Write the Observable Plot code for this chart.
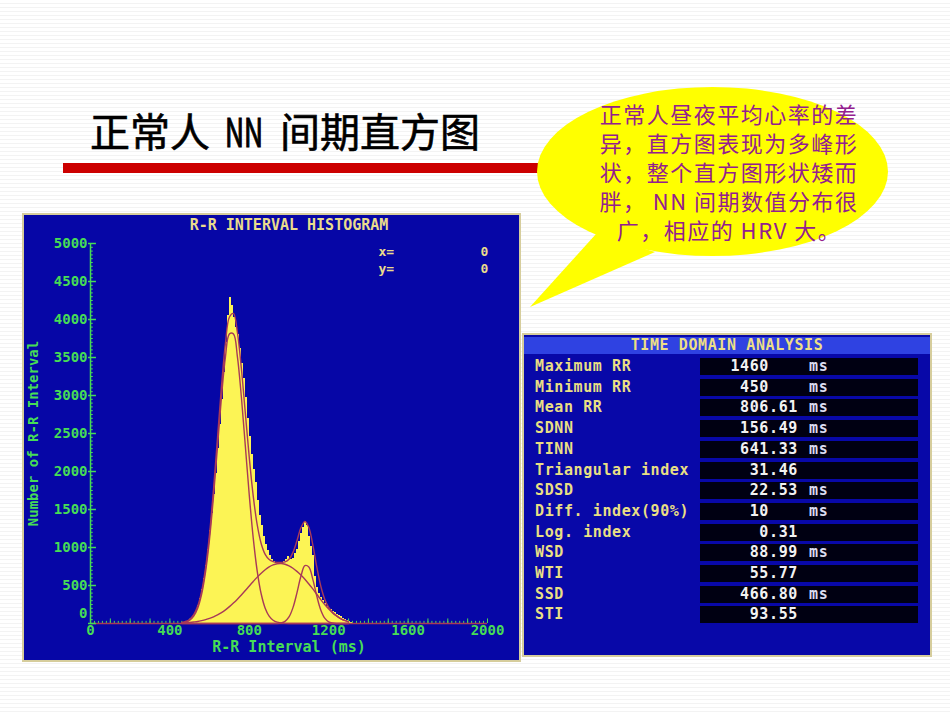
<!DOCTYPE html>
<html><head><meta charset="utf-8">
<script src="https://cdn.jsdelivr.net/npm/d3@7"></script>
<script src="https://cdn.jsdelivr.net/npm/@observablehq/plot@0.6"></script>
<style>
html,body{margin:0;padding:0}
body{width:950px;height:713px;position:relative;overflow:hidden;
  background:repeating-linear-gradient(to bottom,#ffffff 0px,#ffffff 3px,#f3f3f3 3px,#f3f3f3 4px);}
#deco{position:absolute;left:0;top:0}
#hist{position:absolute;left:22px;top:213px;width:499px;height:449px;box-sizing:border-box;
  border:2px solid #d6cd9c;background:#0606a6}
#hist svg{display:block}
#table{position:absolute;left:522px;top:333px;width:410px;height:324px;box-sizing:border-box;
  border:2px solid #d6cd9c;background:#0808a8;font-family:"DejaVu Sans Mono",monospace;font-weight:bold;
  font-size:15px;letter-spacing:0.6px}
#table div{position:absolute;white-space:pre;line-height:17px}
.hdr{left:0;top:2px;width:406px;height:17px;background:#2f42e2;color:#ecdf86;text-align:center}
.lab{left:11px;color:#e9df84}
.box{left:176px;width:218px;height:17px;background:#000012}
.ip{left:176px;width:69px;text-align:right;color:#f2f2f2}
.fp{left:245px;color:#f2f2f2}
.un{left:285px;color:#dcdcf0}
</style></head><body>
<svg id="deco" width="950" height="713"></svg>
<div id="hist"></div>
<div id="table"></div>
<script>
// ---------- data ----------
const titleParts = ["正常人", "NN", "间期直方图"];
const noteLines = ["正常人昼夜平均心率的差", "异，直方图表现为多峰形", "状，整个直方图形状矮而", "胖， NN 间期数值分布很", "广，相应的 HRV 大。"];

const histTitle = "R-R INTERVAL HISTOGRAM";
const xTitle = "R-R Interval (ms)";
const yTitle = "Number of R-R Interval";
const cursorLabels = ["x=", "y="];
const cursorValues = ["0", "0"];

const xTicks = [0, 400, 800, 1200, 1600, 2000];
const yTicks = [0, 500, 1000, 1500, 2000, 2500, 3000, 3500, 4000, 4500, 5000];

// histogram: bin start (ms, 10 ms wide) and counts
const binStart = [490,500,510,520,530,540,550,560,570,580,590,600,610,620,630,640,650,660,670,680,690,
  700,710,720,730,740,750,760,770,780,790,800,810,820,830,840,850,860,870,880,890,
  900,910,920,930,940,950,960,970,980,990,1000,1010,1020,1030,1040,1050,1060,1070,1080,1090,
  1100,1110,1120,1130,1140,1150,1160,1170,1180,1190,1200,1210,1220,1230,1240,1250,1260,1270,1280,1290,1300,1310];
const binCount = [20,40,70,110,160,240,330,450,590,760,980,1220,1450,1700,1980,2300,2620,2950,3300,3700,4050,
  4290,4180,4020,3900,3800,3620,3420,3220,2980,2700,2460,2230,2020,1850,1620,1420,1290,1150,1040,960,
  900,840,820,790,800,780,790,820,840,880,860,840,860,920,980,1080,1190,1260,1340,1290,
  1150,1010,900,620,470,400,340,300,260,230,200,180,160,140,125,105,90,70,55,40,25,10];

// fitted curves sampled every 20 ms
const fitX = [460,480,500,520,540,560,580,600,620,640,660,680,700,720,740,760,780,800,820,840,860,880,900,920,940,
  960,980,1000,1020,1040,1060,1080,1100,1120,1140,1160,1180,1200,1220,1240,1260,1280,1300];
const fitMain = [7,17,43,97,202,388,687,1120,1685,2335,2983,3512,3811,3811,3512,2983,2335,1685,1120,687,388,202,97,43,17,
  7,2,0,0,0,0,0,0,0,0,0,0,0,0,0,0,0,0];
const fitBroad = [7,10,14,20,27,38,51,67,88,114,144,180,222,269,320,376,434,494,553,610,662,708,745,771,787,
  790,780,759,727,686,637,582,520,455,385,315,250,190,140,100,65,40,22];
const fitSecond = [0,0,0,0,0,0,0,0,0,0,0,0,0,0,0,0,0,0,0,0,0,0,0,0,0,
  7,28,86,209,403,621,761,744,580,360,178,70,22,6,0,0,0,0];
const fitSum = [14,27,57,117,229,426,738,1187,1773,2449,3127,3692,4033,4080,3832,3359,2769,2179,1673,1297,1050,910,842,814,804,
  804,810,845,936,1089,1258,1343,1264,1035,745,493,320,212,146,100,65,40,22];

// time domain analysis table
const tableTitle = "TIME DOMAIN ANALYSIS";
const tdLabels = ["Maximum RR","Minimum RR","Mean RR","SDNN","TINN","Triangular index","SDSD","Diff. index(90%)","Log. index","WSD","WTI","SSD","STI"];
const tdValues = ["1460","450","806.61","156.49","641.33","31.46","22.53","10","0.31","88.99","55.77","466.80","93.55"];
const tdUnits  = ["ms","ms","ms","ms","ms","","ms","ms","","ms","","ms",""];

// ---------- decoration: title, red rule, callout ----------
const NS = "http://www.w3.org/2000/svg";
const deco = document.getElementById("deco");
function el(tag, attrs, text) {
  const e = document.createElementNS(NS, tag);
  for (const k in attrs) e.setAttribute(k, attrs[k]);
  if (text != null) e.textContent = text;
  deco.appendChild(e);
  return e;
}
const tf = {"font-family": "Noto Sans CJK SC", "font-size": 40, fill: "#000", "dominant-baseline": "central", stroke: "#000", "stroke-width": 0.6};
el("text", {...tf, x: 90, y: 130}, titleParts[0]);
el("text", {...tf, x: 225, y: 130, textLength: 38, lengthAdjust: "spacingAndGlyphs", "stroke-width": 1.2}, titleParts[1]);
el("text", {...tf, x: 280, y: 130}, titleParts[2]);
el("rect", {x: 63, y: 163, width: 485, height: 10, fill: "#cc0000"});
el("ellipse", {cx: 712.5, cy: 171.5, rx: 175.5, ry: 84.5, fill: "#ffff00"});
el("path", {d: "M596,234 L530,307 L655,252 Z", fill: "#ffff00"});
noteLines.forEach((t, i) => {
  el("text", {x: 729, y: 113 + i * 29, "text-anchor": "middle", "dominant-baseline": "central",
    "font-family": "Noto Sans CJK SC", "font-size": 22, "letter-spacing": 1.5, fill: "#93208f"}, t);
});

// ---------- histogram ----------
const green = "#46dc56", maroon = "#a83a58", yellow = "#fcf455", pale = "#eadc8c";
const mono = "DejaVu Sans Mono";
const bins = binStart.map((x, i) => ({x, n: binCount[i]}));
const step = bins.concat([{x: binStart[binStart.length - 1] + 10, n: 0}]);
const fits = [["main", fitMain], ["broad", fitBroad], ["second", fitSecond], ["sum", fitSum]]
  .flatMap(([k, arr]) => arr.map((v, i) => ({k, x: fitX[i], y: v})));
const xMinor = d3.range(0, 2001, 20), xMid = d3.range(0, 2001, 100);
const yMinor = d3.range(0, 5001, 50);
const txt = {fontFamily: mono, fontWeight: "bold", fontSize: 14, fill: green};
const cur = {...txt, fontSize: 13, fill: pale, frameAnchor: "top-left", lineAnchor: "middle"};

const chart = Plot.plot({
  width: 495, height: 445,
  marginLeft: 66, marginRight: 32, marginTop: 28, marginBottom: 37,
  x: {domain: [0, 2000], axis: null},
  y: {domain: [0, 5000], axis: null},
  style: {background: "#0606a6", fontFamily: mono, overflow: "visible"},
  marks: [
    Plot.ruleX(xMinor, {y1: 0, y2: 28, stroke: green}),
    Plot.ruleX(xMid, {y1: 0, y2: 60, stroke: green}),
    Plot.areaY(step, {x: "x", y: "n", curve: "step-after", fill: yellow, shapeRendering: "crispEdges"}),
    Plot.ruleY([0], {stroke: maroon, strokeWidth: 1.5}),
    Plot.line(fits, {x: "x", y: "y", z: "k", stroke: maroon, strokeWidth: 1.4, curve: "catmull-rom"}),
    Plot.ruleX([0], {y1: 0, y2: 5000, stroke: green, strokeWidth: 1.5}),
    Plot.ruleY(yMinor, {x1: 0, x2: 14, stroke: green}),
    Plot.ruleY(yTicks, {x1: -10, x2: 30, stroke: green, strokeWidth: 1.5}),
    Plot.text(yTicks.filter(d => d > 0), {...txt, x: 0, y: d => d, text: d => String(d), textAnchor: "end", dx: -3}),
    Plot.text(yTicks.filter(d => d === 0), {...txt, x: 0, y: d => d, text: d => String(d), textAnchor: "end", dx: -3, dy: -10}),
    Plot.text(xTicks, {...txt, x: d => d, y: 0, text: d => String(d), dy: 7, lineAnchor: "middle"}),
    Plot.text([xTitle], {...txt, fontSize: 15, frameAnchor: "bottom", lineAnchor: "middle", dy: 24}),
    Plot.text([yTitle], {...txt, frameAnchor: "left", textAnchor: "middle", lineAnchor: "middle", dx: -57, rotate: -90}),
    Plot.text([histTitle], {...txt, fontSize: 15, fill: pale, frameAnchor: "top", lineAnchor: "middle", dy: -18}),
    Plot.text([cursorLabels[0]], {...cur, textAnchor: "start", dx: 288, dy: 8}),
    Plot.text([cursorLabels[1]], {...cur, textAnchor: "start", dx: 288, dy: 25}),
    Plot.text([cursorValues[0]], {...cur, textAnchor: "middle", dx: 394, dy: 8}),
    Plot.text([cursorValues[1]], {...cur, textAnchor: "middle", dx: 394, dy: 25})
  ]
});
document.getElementById("hist").appendChild(chart);

// ---------- table ----------
const tbl = document.getElementById("table");
function div(cls, style, text) {
  const d = document.createElement("div");
  d.className = cls; Object.assign(d.style, style); if (text != null) d.textContent = text;
  tbl.appendChild(d); return d;
}
div("hdr", {}, tableTitle);
tdLabels.forEach((lab, i) => {
  const top = 23 + i * 20.7;
  div("box", {top: top + "px"});
  div("lab", {top: top + "px"}, lab);
  const [ip, fp] = tdValues[i].split(".");
  div("ip", {top: top + "px"}, ip);
  if (fp) div("fp", {top: top + "px"}, "." + fp);
  if (tdUnits[i]) div("un", {top: top + "px"}, tdUnits[i]);
});
</script>
</body></html>
